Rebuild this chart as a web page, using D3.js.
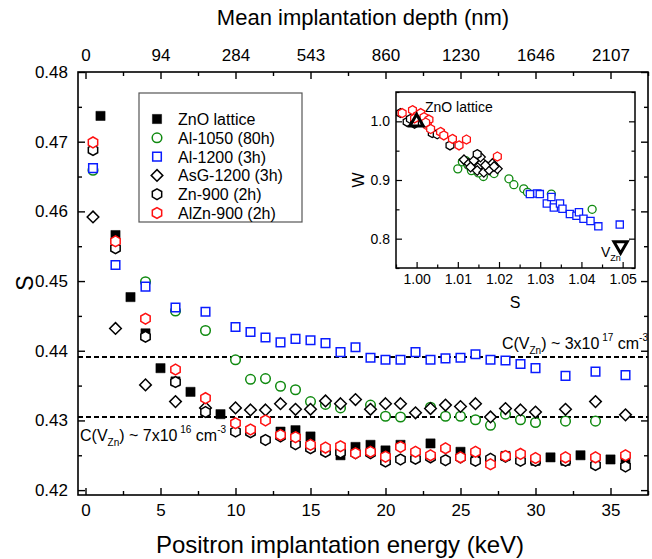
<!DOCTYPE html>
<html>
<head>
<meta charset="utf-8">
<script src="https://cdn.jsdelivr.net/npm/d3@7"></script>
<style>
    body { margin: 0; background: #ffffff; }
    svg { font-family: "Liberation Sans", Arial, sans-serif; }
</style>
</head>
<body>
<div id="chart"></div>
<script>
// ---- 主图数据：能量 (keV) 与 S 参数 ----
const energyTicks = [0, 5, 10, 15, 20, 25, 30, 35];
const depthLabels = ['0', '94', '284', '543', '860', '1230', '1646', '2107'];
const sTicks = [0.42, 0.43, 0.44, 0.45, 0.46, 0.47, 0.48];

const znoE = [1, 2, 3, 4, 5, 6, 7, 9, 13, 14, 15, 17, 18, 19, 20, 21, 23, 25, 26, 28, 30, 31, 32, 33, 35, 36];
const znoS = [0.4737, 0.4566, 0.4477, 0.4425, 0.4375, 0.4356, 0.4341, 0.4309, 0.4284, 0.4286, 0.4277, 0.4250, 0.4262,
    0.4265, 0.4257, 0.4265, 0.4267, 0.4255, 0.4249, 0.4249, 0.4242, 0.4247, 0.4242, 0.4250, 0.4244, 0.4244];

const al1050E = [0.5, 4, 6, 8, 10, 11, 12, 13, 14, 15, 16, 17, 19, 20, 21, 23, 24, 25, 26, 27, 28, 29, 30, 32, 34];
const al1050S = [0.4659, 0.4499, 0.4457, 0.4429, 0.4387, 0.4359, 0.4360, 0.4349, 0.4344, 0.4327, 0.4323, 0.4318, 0.4322,
    0.4306, 0.4305, 0.4319, 0.4306, 0.4306, 0.4301, 0.4293, 0.4309, 0.4301, 0.4297, 0.4299, 0.4299];

const al1200E = [0.5, 2, 4, 6, 8, 10, 11, 12, 13, 14, 15, 16, 17, 18, 19, 20, 21, 22, 23, 24, 25, 26, 27, 28, 29, 30, 32, 34, 36];
const al1200S = [0.4662, 0.4523, 0.4492, 0.4462, 0.4456, 0.4434, 0.4427, 0.4419, 0.4412, 0.4417, 0.4415, 0.4411, 0.4398,
    0.4405, 0.4390, 0.4387, 0.4387, 0.4398, 0.4387, 0.4389, 0.4390, 0.4395, 0.4387, 0.4386, 0.4381, 0.4375, 0.4364, 0.4370, 0.4365];

const asgE = [0.5, 2, 4, 6, 8, 10, 11, 12, 13, 14, 15, 16, 17, 18, 19, 20, 21, 22, 23, 24, 25, 26, 27, 28, 29, 30, 32, 34, 36];
const asgS = [0.4592, 0.4432, 0.4351, 0.4327, 0.4318, 0.4318, 0.4315, 0.4315, 0.4324, 0.4316, 0.4316, 0.4328, 0.4324,
    0.4330, 0.4316, 0.4324, 0.4324, 0.4311, 0.4317, 0.4322, 0.4320, 0.4324, 0.4305, 0.4317, 0.4315, 0.4312, 0.4316, 0.4327, 0.4308];

const zn900E = [0.5, 2, 4, 6, 8, 10, 11, 12, 13, 14, 15, 16, 17, 18, 19, 20, 21, 22, 23, 24, 25, 26, 27, 28, 29, 30, 32, 34, 36];
const zn900S = [0.4688, 0.4547, 0.4420, 0.4355, 0.4312, 0.4284, 0.4283, 0.4272, 0.4277, 0.4266, 0.4260, 0.4255, 0.4254,
    0.4253, 0.4253, 0.4241, 0.4244, 0.4245, 0.4247, 0.4243, 0.4247, 0.4242, 0.4245, 0.4248, 0.4242, 0.4242, 0.4242, 0.4236, 0.4234];

const alzn900E = [0.5, 2, 4, 6, 8, 10, 11, 12, 13, 14, 15, 16, 17, 18, 19, 20, 21, 22, 23, 24, 25, 26, 27, 28, 29, 30, 32, 34, 36];
const alzn900S = [0.4699, 0.4557, 0.4446, 0.4373, 0.4332, 0.4296, 0.4287, 0.4300, 0.4279, 0.4276, 0.4265, 0.4261, 0.4263,
    0.4253, 0.4255, 0.4248, 0.4262, 0.4255, 0.4250, 0.4260, 0.4247, 0.4255, 0.4237, 0.4249, 0.4252, 0.4246, 0.4247, 0.4247, 0.4250];

// 参考浓度线
const cLevels = [0.4391, 0.4305];

// ---- 插图数据：S-W 图 ----
const insetSTicks = [1.00, 1.01, 1.02, 1.03, 1.04, 1.05];
const insetWTicks = [0.8, 0.9, 1.0];

const inAlznS = [0.9965, 0.9990, 1.0002, 1.0010, 1.0018, 1.0030, 1.0026, 1.0034, 1.0058, 1.0066, 1.0087, 1.0103, 1.0121, 1.0196, 0.9995, 1.0022];
const inAlznW = [1.014, 1.019, 1.010, 1.014, 1.007, 1.003, 0.993, 0.987, 0.982, 0.976, 0.970, 0.959, 0.969, 0.940, 1.005, 0.998];

const inZnS = [0.9961, 0.9977, 0.9985, 1.0038, 1.0050, 1.0081, 1.0147, 0.9995];
const inZnW = [1.014, 0.999, 1.004, 0.980, 0.978, 0.959, 0.944, 0.996];

const inAsgS = [1.0115, 1.0127, 1.0139, 1.0151, 1.0159, 1.0172, 1.0184, 1.0196, 1.0131, 1.0147, 1.0163, 1.0176, 1.0188, 1.0155, 1.0167];
const inAsgW = [0.9345, 0.928, 0.933, 0.923, 0.930, 0.922, 0.928, 0.919, 0.922, 0.916, 0.913, 0.917, 0.923, 0.939, 0.925];

const inAl1050S = [1.0100, 1.0111, 1.0119, 1.0133, 1.0162, 1.0188, 1.0224, 1.0236, 1.0260, 1.0269, 1.0327, 1.0426, 1.0125, 1.0150];
const inAl1050W = [0.919, 0.931, 0.933, 0.916, 0.906, 0.911, 0.902, 0.892, 0.885, 0.879, 0.876, 0.850, 0.925, 0.912];

const inAl1200S = [1.0275, 1.0293, 1.0299, 1.0316, 1.0327, 1.0333, 1.0348, 1.0354, 1.0372, 1.0388, 1.0394, 1.0405, 1.0422, 1.0441, 1.0493];
const inAl1200W = [0.876, 0.877, 0.876, 0.860, 0.871, 0.853, 0.860, 0.851, 0.842, 0.839, 0.845, 0.834, 0.830, 0.821, 0.824];

const refS = [1.000, 1.0495];
const refW = [1.000, 0.787];

// ---- 画布 ----
const width = 652, height = 559;
const frame = {left: 78, right: 648, top: 72, bottom: 495};

const svg = d3.select('#chart')
    .append('svg')
    .attr('width', width)
    .attr('height', height);

const x = d3.scaleLinear().domain([-0.5, 37.5]).range([frame.left, frame.right]);
const y = d3.scaleLinear().domain([0.4193, 0.48]).range([frame.bottom, frame.top]);

/**
 * 生成标记路径
 * @param kind 标记类型
 * @param r 半径
 */
const markerPath = (kind, r) => {
    const p = d3.path();
    if (kind === 'square') {
        p.rect(-r, -r, 2 * r, 2 * r);
    } else if (kind === 'circle') {
        p.moveTo(r, 0);
        p.arc(0, 0, r, 0, 2 * Math.PI);
    } else if (kind === 'diamond') {
        p.moveTo(0, -r);
        p.lineTo(r, 0);
        p.lineTo(0, r);
        p.lineTo(-r, 0);
        p.closePath();
    } else if (kind === 'hex') {
        for (let i = 0; i < 6; i++) {
            const a = -Math.PI / 2 + i * Math.PI / 3;
            i === 0 ? p.moveTo(r * Math.cos(a), r * Math.sin(a)) : p.lineTo(r * Math.cos(a), r * Math.sin(a));
        }
        p.closePath();
    } else if (kind === 'triUp' || kind === 'triDown') {
        const k = kind === 'triUp' ? 1 : -1;
        p.moveTo(0, -r * k);
        p.lineTo(r * 0.95, r * 0.65 * k);
        p.lineTo(-r * 0.95, r * 0.65 * k);
        p.closePath();
    }
    return p.toString();
};

const seriesList = [
    {name: 'ZnO lattice', E: znoE, S: znoS, kind: 'square', color: '#000000', filled: true, r: 4.6},
    {name: 'Al-1050 (80h)', E: al1050E, S: al1050S, kind: 'circle', color: '#108a10', filled: false, r: 4.8},
    {name: 'Al-1200 (3h)', E: al1200E, S: al1200S, kind: 'square', color: '#0a1cff', filled: false, r: 4.3},
    {name: 'AsG-1200 (3h)', E: asgE, S: asgS, kind: 'diamond', color: '#000000', filled: false, r: 5.8},
    {name: 'Zn-900 (2h)', E: zn900E, S: zn900S, kind: 'hex', color: '#000000', filled: false, r: 5.4},
    {name: 'AlZn-900 (2h)', E: alzn900E, S: alzn900S, kind: 'hex', color: '#ff1010', filled: false, r: 5.4}
];

// ---- 坐标轴（刻度朝内） ----
const minorE = d3.range(0, 38, 2.5).filter(v => !energyTicks.includes(v));
const minorS = [0.425, 0.435, 0.445, 0.455, 0.465, 0.475];

const axisG = svg.append('g').attr('class', 'axes');

const addAxis = (axisFn, scale, values, size, transform, fmt, pad) => {
    const g = axisG.append('g')
        .attr('transform', transform)
        .call(axisFn(scale).tickValues(values).tickSize(size).tickPadding(pad).tickFormat(fmt));
    g.select('.domain').remove();
    g.selectAll('line').attr('stroke', '#000').attr('stroke-width', 1.4);
    g.selectAll('text').attr('font-size', 17).attr('fill', '#000');
    return g;
};

// 底部
addAxis(d3.axisBottom, x, energyTicks, -7, `translate(0,${frame.bottom})`, d3.format('d'), 9);
addAxis(d3.axisBottom, x, minorE, -4, `translate(0,${frame.bottom})`, () => '', 9);
// 顶部（平均注入深度）
addAxis(d3.axisTop, x, energyTicks, -7, `translate(0,${frame.top})`, (d, i) => depthLabels[i], 11);
addAxis(d3.axisTop, x, minorE, -4, `translate(0,${frame.top})`, () => '', 11);
// 左侧
addAxis(d3.axisLeft, y, sTicks, -7, `translate(${frame.left},0)`, d3.format('.2f'), 10);
addAxis(d3.axisLeft, y, minorS, -4, `translate(${frame.left},0)`, () => '', 10);
// 右侧
addAxis(d3.axisRight, y, sTicks, -7, `translate(${frame.right},0)`, () => '', 10);
addAxis(d3.axisRight, y, minorS, -4, `translate(${frame.right},0)`, () => '', 10);

svg.append('rect')
    .attr('x', frame.left)
    .attr('y', frame.top)
    .attr('width', frame.right - frame.left)
    .attr('height', frame.bottom - frame.top)
    .attr('fill', 'none')
    .attr('stroke', '#000')
    .attr('stroke-width', 1.6);

// 轴标题
svg.append('text')
    .attr('x', 340).attr('y', 553)
    .attr('text-anchor', 'middle')
    .attr('font-size', 24)
    .text('Positron implantation energy (keV)');
svg.append('text')
    .attr('x', 363).attr('y', 25)
    .attr('text-anchor', 'middle')
    .attr('font-size', 22)
    .text('Mean implantation depth (nm)');
svg.append('text')
    .attr('transform', 'translate(33,283) rotate(-90)')
    .attr('text-anchor', 'middle')
    .attr('font-size', 23)
    .text('S');

// ---- 浓度参考虚线 ----
svg.append('g')
    .selectAll('line')
    .data(cLevels)
    .enter()
    .append('line')
    .attr('x1', frame.left)
    .attr('x2', frame.right)
    .attr('y1', d => y(d))
    .attr('y2', d => y(d))
    .attr('stroke', '#000')
    .attr('stroke-width', 2)
    .attr('stroke-dasharray', '5,3');

const concLabel = (textEl, mant, exp) => {
    textEl.append('tspan').text('C(V');
    textEl.append('tspan').attr('font-size', 10).attr('dy', 5).text('Zn');
    textEl.append('tspan').attr('dy', -5).text(`) ~ ${mant}x10`);
    textEl.append('tspan').attr('font-size', 10).attr('dy', -8).text(` ${exp}`);
    textEl.append('tspan').attr('dy', 8).text(' cm');
    textEl.append('tspan').attr('font-size', 10).attr('dy', -8).text('-3');
};
concLabel(svg.append('text').attr('x', frame.right).attr('y', 349)
    .attr('text-anchor', 'end').attr('font-size', 16), '3', '17');
concLabel(svg.append('text').attr('x', 80).attr('y', 441)
    .attr('font-size', 16), '7', '16');

// ---- 主图数据点 ----
const plotG = svg.append('g').attr('class', 'points');
seriesList.forEach(s => {
    plotG.append('g')
        .selectAll('path')
        .data(s.E.map((e, i) => [e, s.S[i]]))
        .enter()
        .append('path')
        .attr('transform', d => `translate(${x(d[0])},${y(d[1])})`)
        .attr('d', markerPath(s.kind, s.r))
        .attr('fill', s.filled ? s.color : '#ffffff')
        .attr('stroke', s.color)
        .attr('stroke-width', s.filled ? 0.5 : 1.5);
});

// ---- 图例 ----
const legend = svg.append('g').attr('transform', 'translate(139,93)');
legend.append('rect')
    .attr('width', 163).attr('height', 129)
    .attr('fill', '#fff')
    .attr('stroke', '#555')
    .attr('stroke-width', 1.2);
seriesList.forEach((s, i) => {
    const row = legend.append('g').attr('transform', `translate(18,${26 + i * 18.8})`);
    row.append('path')
        .attr('d', markerPath(s.kind, s.r))
        .attr('fill', s.filled ? s.color : '#ffffff')
        .attr('stroke', s.color)
        .attr('stroke-width', s.filled ? 0.5 : 1.5);
    row.append('text')
        .attr('x', 21).attr('y', 6)
        .attr('font-size', 16)
        .text(s.name);
});

// ---- 插图 ----
const inset = {left: 396, right: 635, top: 92, bottom: 268};
const ix = d3.scaleLinear().domain([0.995, 1.053]).range([inset.left, inset.right]);
const iy = d3.scaleLinear().domain([0.75, 1.05]).range([inset.bottom, inset.top]);

const insetG = svg.append('g').attr('class', 'inset');
insetG.append('rect')
    .attr('x', inset.left).attr('y', inset.top)
    .attr('width', inset.right - inset.left).attr('height', inset.bottom - inset.top)
    .attr('fill', '#fff');

const addInsetAxis = (axisFn, scale, values, size, transform, fmt) => {
    const g = insetG.append('g')
        .attr('transform', transform)
        .call(axisFn(scale).tickValues(values).tickSize(size).tickPadding(6).tickFormat(fmt));
    g.select('.domain').remove();
    g.selectAll('line').attr('stroke', '#000').attr('stroke-width', 1.2);
    g.selectAll('text').attr('font-size', 14).attr('fill', '#000');
};
const insetMinorS = [0.995, 1.005, 1.015, 1.025, 1.035, 1.045];
const insetMinorW = [0.75, 0.85, 0.95, 1.05];
addInsetAxis(d3.axisBottom, ix, insetSTicks, -6, `translate(0,${inset.bottom})`, d3.format('.2f'));
addInsetAxis(d3.axisBottom, ix, insetMinorS, -3.5, `translate(0,${inset.bottom})`, () => '');
addInsetAxis(d3.axisLeft, iy, insetWTicks, -6, `translate(${inset.left},0)`, d3.format('.1f'));
addInsetAxis(d3.axisLeft, iy, insetMinorW, -3.5, `translate(${inset.left},0)`, () => '');
addInsetAxis(d3.axisRight, iy, insetWTicks, -6, `translate(${inset.right},0)`, () => '');
addInsetAxis(d3.axisRight, iy, insetMinorW, -3.5, `translate(${inset.right},0)`, () => '');

insetG.append('rect')
    .attr('x', inset.left).attr('y', inset.top)
    .attr('width', inset.right - inset.left).attr('height', inset.bottom - inset.top)
    .attr('fill', 'none')
    .attr('stroke', '#000')
    .attr('stroke-width', 1.5);

insetG.append('text')
    .attr('x', 515).attr('y', 308)
    .attr('text-anchor', 'middle')
    .attr('font-size', 16)
    .text('S');
insetG.append('text')
    .attr('transform', 'translate(364,180) rotate(-90)')
    .attr('text-anchor', 'middle')
    .attr('font-size', 16)
    .text('W');

const insetSeries = [
    {S: inAl1050S, W: inAl1050W, kind: 'circle', color: '#108a10', r: 4},
    {S: inAl1200S, W: inAl1200W, kind: 'square', color: '#0a1cff', r: 3.6},
    {S: inAsgS, W: inAsgW, kind: 'diamond', color: '#000000', r: 4.8},
    {S: inZnS, W: inZnW, kind: 'hex', color: '#000000', r: 4.5},
    {S: inAlznS, W: inAlznW, kind: 'hex', color: '#ff1010', r: 4.5}
];
insetSeries.forEach(s => {
    insetG.append('g')
        .selectAll('path')
        .data(s.S.map((v, i) => [v, s.W[i]]))
        .enter()
        .append('path')
        .attr('transform', d => `translate(${ix(d[0])},${iy(d[1])})`)
        .attr('d', markerPath(s.kind, s.r))
        .attr('fill', '#ffffff')
        .attr('stroke', s.color)
        .attr('stroke-width', 1.3);
});

// 参考点：ZnO 晶格与 V_Zn
insetG.selectAll('.ref')
    .data(['triUp', 'triDown'])
    .enter()
    .append('path')
    .attr('transform', (d, i) => `translate(${ix(refS[i])},${iy(refW[i])})`)
    .attr('d', d => markerPath(d, 7))
    .attr('fill', 'none')
    .attr('stroke', '#000')
    .attr('stroke-width', 3)
    .attr('stroke-linejoin', 'miter');

insetG.append('text')
    .attr('x', 425).attr('y', 112)
    .attr('font-size', 14)
    .text('ZnO lattice');
const vzn = insetG.append('text')
    .attr('x', 601).attr('y', 257)
    .attr('font-size', 14);
vzn.append('tspan').text('V');
vzn.append('tspan').attr('font-size', 9).attr('dy', 4).text('Zn');
</script>
</body>
</html>
